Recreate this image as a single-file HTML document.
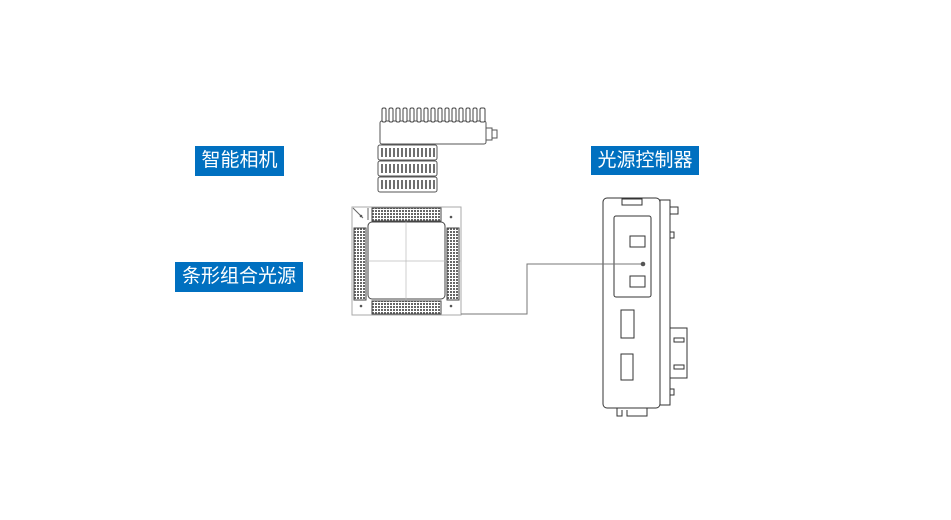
<!DOCTYPE html>
<html><head><meta charset="utf-8"><style>
html,body{margin:0;padding:0;background:#fff;width:951px;height:520px;overflow:hidden}
.lb{position:absolute;background:#0070c0;color:#fff;font-family:"Liberation Sans","Noto Sans CJK SC",sans-serif;font-size:19px;line-height:30px;text-align:center;white-space:nowrap}
svg{position:absolute;left:0;top:0}
</style></head><body>
<svg width="951" height="520" viewBox="0 0 951 520">
<defs>
<pattern id="dots" width="3" height="3" patternUnits="userSpaceOnUse"><rect width="3" height="3" fill="#fff"/><rect width="2" height="2" fill="#666"/></pattern>
</defs>
<g fill="none" stroke="#555" stroke-width="1">
<!-- camera body -->
<rect x="380" y="121" width="106" height="23" rx="2" fill="#fff"/>
<g stroke="#444" fill="#fff">
<rect x="382" y="108" width="4" height="14" rx="1.5"/><rect x="389" y="108" width="4" height="14" rx="1.5"/><rect x="396" y="108" width="4" height="14" rx="1.5"/><rect x="403" y="108" width="4" height="14" rx="1.5"/><rect x="410" y="108" width="4" height="14" rx="1.5"/><rect x="417" y="108" width="4" height="14" rx="1.5"/><rect x="424" y="108" width="4" height="14" rx="1.5"/><rect x="431" y="108" width="4" height="14" rx="1.5"/><rect x="438" y="108" width="4" height="14" rx="1.5"/><rect x="445" y="108" width="4" height="14" rx="1.5"/><rect x="452" y="108" width="4" height="14" rx="1.5"/><rect x="459" y="108" width="4" height="14" rx="1.5"/><rect x="466" y="108" width="4" height="14" rx="1.5"/><rect x="473" y="108" width="4" height="14" rx="1.5"/><rect x="480" y="108" width="5" height="14" rx="1.5"/>
</g>
<rect x="486" y="128" width="6" height="12"/><rect x="492" y="130" width="5" height="8"/>
<!-- lens -->
<rect x="378" y="145" width="59" height="15" rx="2" fill="#fff"/>
<rect x="378" y="161" width="59" height="15" rx="2" fill="#fff"/>
<rect x="378" y="177" width="59" height="15" rx="2" fill="#fff"/>
<g stroke="#333" stroke-width="1.4">
<path d="M382 148v9M386 148v9M390 148v9M394 148v9M398 148v9M402 148v9M406 148v9M410 148v9M414 148v9M418 148v9M422 148v9M426 148v9M430 148v9M434 148v9"/>
<path d="M382 164v9M386 164v9M390 164v9M394 164v9M398 164v9M402 164v9M406 164v9M410 164v9M414 164v9M418 164v9M422 164v9M426 164v9M430 164v9M434 164v9"/>
<path d="M382 180v9M386 180v9M390 180v9M394 180v9M398 180v9M402 180v9M406 180v9M410 180v9M414 180v9M418 180v9M422 180v9M426 180v9M430 180v9M434 180v9"/>
</g>
<!-- light source -->
<rect x="352" y="207" width="109" height="108" stroke="#aaa"/>
<rect x="368" y="222" width="77" height="77" rx="4" stroke="#444"/>
<line x1="352" y1="261" x2="461" y2="261" stroke="#bbb" stroke-width="0.7"/>
<line x1="406" y1="207" x2="406" y2="315" stroke="#bbb" stroke-width="0.7"/>
<rect x="372" y="208" width="69" height="13" stroke="#444" fill="url(#dots)"/>
<rect x="372" y="301" width="69" height="13" stroke="#444" fill="url(#dots)"/>
<rect x="354" y="228" width="12" height="72" stroke="#444" fill="url(#dots)"/>
<rect x="447" y="228" width="12" height="72" stroke="#444" fill="url(#dots)"/>
<path d="M353 208l10 10M368 208v12" stroke="#666"/>
<g fill="#555" stroke="none"><circle cx="361" cy="216" r="1.3"/><circle cx="451" cy="217" r="1.3"/><circle cx="361" cy="306" r="1.3"/><circle cx="451" cy="306" r="1.3"/></g>
<!-- controller -->
<rect x="660" y="200" width="10" height="205" stroke="#333"/>
<rect x="603" y="198" width="57" height="210" rx="4" stroke="#333" fill="#fff"/>
<rect x="622" y="199" width="20" height="6" stroke="#333"/>
<rect x="614" y="216" width="37" height="81" rx="2" stroke="#333"/>
<rect x="630" y="236" width="15" height="11" stroke="#333"/>
<rect x="630" y="276" width="15" height="11" stroke="#333"/>
<rect x="621" y="310" width="13" height="28" stroke="#333"/>
<rect x="621" y="354" width="12" height="26" stroke="#333"/>
<rect x="670" y="207" width="8" height="7" stroke="#333"/>
<rect x="670" y="232" width="4" height="6" stroke="#333"/>
<rect x="670" y="328" width="17" height="50" stroke="#333"/>
<rect x="674" y="338" width="10" height="4" stroke="#333"/>
<rect x="674" y="365" width="10" height="4" stroke="#333"/>
<rect x="670" y="389" width="4" height="6" stroke="#333"/>
<path d="M617 408v8h5v-6M627 410v6h20v-8" stroke="#333"/>
<!-- connector line -->
<polyline points="461,314 527,314 527,264 642,264" stroke="#777"/>
</g>
<circle cx="643" cy="264" r="2.3" fill="#555"/>
</svg>
<div class="lb" style="left:195px;top:146px;width:89px;height:30px">智能相机</div>
<div class="lb" style="left:175px;top:262px;width:128px;height:30px">条形组合光源</div>
<div class="lb" style="left:591px;top:146px;width:108px;height:29px">光源控制器</div>
</body></html>
